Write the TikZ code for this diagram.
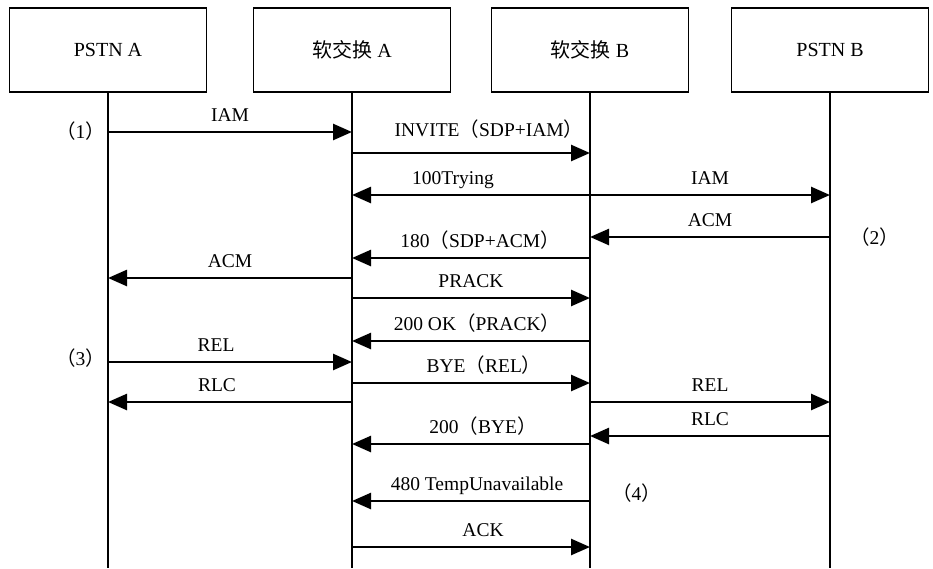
\documentclass[tikz,border=0pt]{standalone}
\usepackage{fontspec}
\setmainfont{Liberation Serif}
\newfontfamily\cjk{Noto Sans CJK SC}
\usetikzlibrary{positioning,calc,arrows.meta}
\newcommand{\lp}{{\cjk （}}
\newcommand{\rp}{{\cjk ）}}

\begin{document}
\begin{tikzpicture}[x=1pt, y=-1pt,
  entity/.style={draw=black, line width=1.5pt, minimum width=197pt,
                 minimum height=84pt, font=\fontsize{20}{22}\selectfont},
  life/.style={line width=1.2pt},
  msg/.style={line width=2.6pt, -{Triangle[length=19pt,width=16pt]}},
  lbl/.style={font=\fontsize{19.5}{22}\selectfont, inner sep=0pt,
              anchor=base, yshift=11pt},
  tag/.style={font=\fontsize{19.5}{22}\selectfont, inner sep=0pt}]
\useasboundingbox (0,0) rectangle (933,568);

% entities and lifelines
\node[entity] (pa) at (108,50) {PSTN A};
\node[entity] (sa) at (352,50) {{\cjk 软交换} A};
\node[entity] (sb) at (590,50) {{\cjk 软交换} B};
\node[entity] (pb) at (830,50) {PSTN B};
\coordinate (bot) at (0,568);
\foreach \e in {pa,sa,sb,pb}
  \draw[life] (\e.south) -- (\e.south |- bot);

% call setup
\draw[msg] (pa |- 0,132) -- node[lbl]{IAM} (sa |- 0,132);
\node[tag, anchor=east, xshift=-3pt] (t1) at (pa |- 0,131) {\lp 1\rp};
\draw[msg] (sa |- 0,153) -- node[lbl, xshift=18pt, yshift=6pt]{INVITE\lp SDP+IAM\rp} (sb |- 0,153);
\draw[msg] (sb |- 0,195) -- node[lbl, xshift=-18pt]{100Trying} (sa |- 0,195);
\draw[msg] (sb |- 0,195) -- node[lbl]{IAM} (pb |- 0,195);
\draw[msg] (pb |- 0,237) -- node[lbl]{ACM} (sb |- 0,237);
\node[tag, anchor=west, xshift=20pt] (t2) at (pb |- 0,237) {\lp 2\rp};
\draw[msg] (sb |- 0,258) -- node[lbl, xshift=9pt]{180\lp SDP+ACM\rp} (sa |- 0,258);
\draw[msg] (sa |- 0,278) -- node[lbl]{ACM} (pa |- 0,278);
\draw[msg] (sa |- 0,298) -- node[lbl]{PRACK} (sb |- 0,298);
\draw[msg] (sb |- 0,341) -- node[lbl, xshift=6pt]{200 OK\lp PRACK\rp} (sa |- 0,341);

% release
\draw[msg] (pa |- 0,362) -- node[lbl, xshift=-14pt]{REL} (sa |- 0,362);
\node[tag, anchor=east, xshift=-3pt] (t3) at (pa |- 0,358) {\lp 3\rp};
\draw[msg] (sa |- 0,383) -- node[lbl, xshift=13pt]{BYE\lp REL\rp} (sb |- 0,383);
\draw[msg] (sa |- 0,402) -- node[lbl, xshift=-13pt]{RLC} (pa |- 0,402);
\draw[msg] (sb |- 0,402) -- node[lbl]{REL} (pb |- 0,402);
\draw[msg] (pb |- 0,436) -- node[lbl]{RLC} (sb |- 0,436);
\draw[msg] (sb |- 0,444) -- node[lbl, xshift=12pt]{200\lp BYE\rp} (sa |- 0,444);
\draw[msg] (sb |- 0,501) -- node[lbl, xshift=6pt]{480 TempUnavailable} (sa |- 0,501);
\node[tag, anchor=west, xshift=22pt] (t4) at (sb |- 0,493) {\lp 4\rp};
\draw[msg] (sa |- 0,547) -- node[lbl, xshift=12pt]{ACK} (sb |- 0,547);
\end{tikzpicture}
\end{document}
